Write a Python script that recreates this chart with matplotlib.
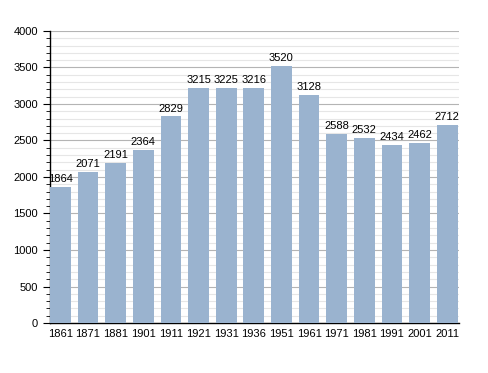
import numpy as np
import matplotlib.pyplot as plt
from matplotlib.ticker import MultipleLocator

plt.rcParams['font.family'] = ['Liberation Sans', 'DejaVu Sans']

years = ['1861', '1871', '1881', '1901', '1911', '1921', '1931', '1936',
         '1951', '1961', '1971', '1981', '1991', '2001', '2011']
population = [1864, 2071, 2191, 2364, 2829, 3215, 3225, 3216,
              3520, 3128, 2588, 2532, 2434, 2462, 2712]

fig = plt.figure(figsize=(4.88, 3.73), dpi=100, facecolor='white')
ax = fig.add_axes([0.1025, 0.134, 0.838, 0.783])

w = 0.75
x = np.arange(len(years))
ax.bar(x, population, width=w, color='#9ab3cf', zorder=3)
for xi, v in zip(x, population):
    ax.text(xi, v + 40, str(v), ha='center', va='bottom', fontsize=8, zorder=4)

ax.set_xlim(-w / 2, len(years) - 1 + w / 2 + 0.05)
ax.set_ylim(0, 4000)
ax.set_xticks(x)
ax.set_xticklabels(years)
ax.yaxis.set_major_locator(MultipleLocator(500))
ax.yaxis.set_minor_locator(MultipleLocator(100))
ax.grid(True, which='major', axis='y', color='#b4b4b4', linewidth=0.8, zorder=0)
ax.grid(True, which='minor', axis='y', color='#e6e6e6', linewidth=0.8, zorder=0)

for s in ['top', 'right']:
    ax.spines[s].set_visible(False)
ax.spines['left'].set_linewidth(1.0)
ax.spines['bottom'].set_linewidth(1.0)
ax.tick_params(axis='x', length=0, labelsize=8, pad=4)
ax.tick_params(axis='y', which='major', length=5, labelsize=8)
ax.tick_params(axis='y', which='minor', length=3)

fig.savefig('out.png', dpi=100)
